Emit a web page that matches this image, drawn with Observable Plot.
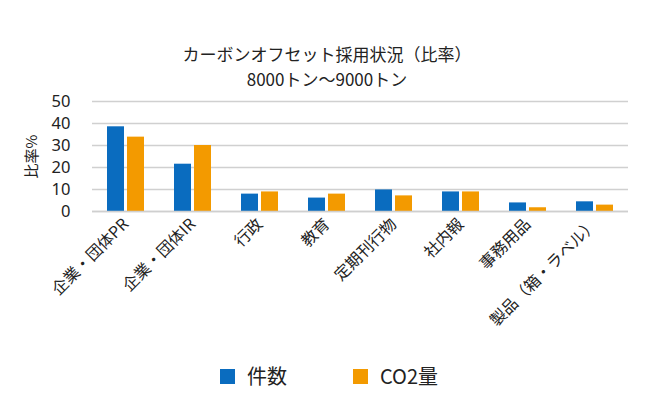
<!DOCTYPE html>
<html>
<head>
<meta charset="utf-8">
<script src="https://cdn.jsdelivr.net/npm/d3@7"></script>
<script src="https://cdn.jsdelivr.net/npm/@observablehq/plot@0.6"></script>
<style>
  body { margin: 0; background: #fff; font-family: "Noto Sans CJK JP", "Noto Sans", sans-serif; color: #222; }
  #wrap { position: relative; width: 660px; height: 408px; overflow: hidden; }
  #chart { position: absolute; left: 0; top: 0; }
  .title { position: absolute; left: 0; width: 654px; text-align: center; font-size: 17px; line-height: 20px; color: #222; }
  .legend { position: absolute; top: 364px; font-size: 20px; line-height: 24px; display: flex; align-items: center; color: #222; }
  .sw { width: 15px; height: 15px; margin-right: 12px; }
</style>
</head>
<body>
<div id="wrap">
  <div id="chart"></div>
  <div class="title" style="top:44px">カーボンオフセット採用状況（比率）</div>
  <div class="title" style="top:69px">8000トン〜9000トン</div>
  <div class="legend" style="left:220px"><div class="sw" style="background:#0a6cbf"></div>件数</div>
  <div class="legend" style="left:353px"><div class="sw" style="background:#f39a00"></div>CO2量</div>
</div>
<script>
const categories = ["企業・団体PR", "企業・団体IR", "行政", "教育", "定期刊行物", "社内報", "事務用品", "製品（箱・ラベル）"];
const seriesNames = ["件数", "CO2量"];
const countValues = [38.5, 21.5, 7.9, 6.1, 9.8, 8.9, 3.9, 4.4];
const co2Values = [33.8, 30.0, 8.9, 7.9, 7.1, 8.9, 1.7, 2.9];
const yTicks = [0, 10, 20, 30, 40, 50];
const colors = ["#0a6cbf", "#f39a00"];

const data = [];
categories.forEach((c, i) => {
  data.push({cat: c, series: seriesNames[0], value: countValues[i]});
  data.push({cat: c, series: seriesNames[1], value: co2Values[i]});
});

const chart = Plot.plot({
  width: 660,
  height: 408,
  marginLeft: 92,
  marginRight: 32,
  marginTop: 101,
  marginBottom: 197,
  style: {fontFamily: '"Noto Sans CJK JP", "Noto Sans", sans-serif', fontSize: "16px", color: "#222"},
  fx: {domain: categories, padding: 0, label: null, tickSize: 0, tickPadding: 10, tickRotate: -45},
  x: {domain: seriesNames, axis: null, paddingInner: 0.17, paddingOuter: 0.76},
  y: {domain: [0, 50], ticks: yTicks, tickSize: 0, tickPadding: 22, label: "比率%", labelArrow: "none", labelAnchor: "center", labelOffset: 66},
  color: {domain: seriesNames, range: colors},
  marks: [
    Plot.ruleY(yTicks, {stroke: "#d0d0d0", strokeWidth: 1.5}),
    Plot.barY(data, {fx: "cat", x: "series", y: "value", fill: "series"}),
    Plot.ruleY([0], {stroke: "#cfcfcf", strokeWidth: 1.5})
  ]
});
document.getElementById("chart").appendChild(chart);
d3.select(chart).selectAll("[aria-label='y-axis tick label'] text")
  .style("font-size", "16.5px").style("font-family", '"Noto Sans", sans-serif');
d3.select(chart).selectAll("[aria-label='y-axis label'] text").style("font-size", "15px");
</script>
</body>
</html>
